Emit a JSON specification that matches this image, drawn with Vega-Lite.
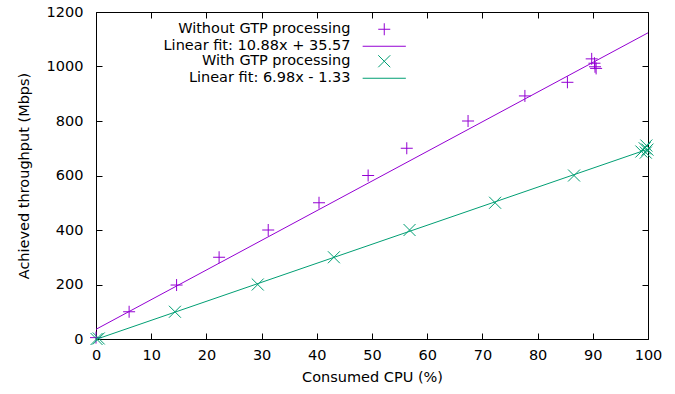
{
  "$schema": "https://vega.github.io/schema/vega-lite/v6.json",
  "autosize": "none",
  "width": 552,
  "height": 327,
  "padding": {"left": 96, "top": 12, "right": 27, "bottom": 55},
  "background": "white",
  "config": {
    "font": "DejaVu Sans",
    "view": {"stroke": "#000000", "strokeWidth": 1},
    "axis": {
      "grid": false,
      "domain": false,
      "tickColor": "#000000",
      "tickSize": -6,
      "labelFontSize": 14.5,
      "labelColor": "#000000",
      "titleFontSize": 14.5,
      "titleFontWeight": "normal",
      "titleColor": "#000000",
      "labelFlush": false,
      "labelOverlap": false,
      "format": "d"
    },
    "legend": {
      "labelFontSize": 14.5,
      "labelColor": "#000000"
    }
  },
  "layer": [
    {
      "data": {"values": [
        {"cpu": 0, "thr": 5, "series": "Without GTP processing"},
        {"cpu": 6.0, "thr": 100, "series": "Without GTP processing"},
        {"cpu": 14.6, "thr": 198, "series": "Without GTP processing"},
        {"cpu": 22.3, "thr": 300, "series": "Without GTP processing"},
        {"cpu": 31.2, "thr": 400, "series": "Without GTP processing"},
        {"cpu": 40.4, "thr": 500, "series": "Without GTP processing"},
        {"cpu": 49.3, "thr": 600, "series": "Without GTP processing"},
        {"cpu": 56.3, "thr": 700, "series": "Without GTP processing"},
        {"cpu": 67.4, "thr": 800, "series": "Without GTP processing"},
        {"cpu": 77.7, "thr": 892, "series": "Without GTP processing"},
        {"cpu": 85.4, "thr": 942, "series": "Without GTP processing"},
        {"cpu": 89.8, "thr": 1028, "series": "Without GTP processing"},
        {"cpu": 90.3, "thr": 1012, "series": "Without GTP processing"},
        {"cpu": 90.4, "thr": 999, "series": "Without GTP processing"},
        {"cpu": 90.6, "thr": 993, "series": "Without GTP processing"},
        {"cpu": 0.1, "thr": 0, "series": "With GTP processing"},
        {"cpu": 0.5, "thr": 2, "series": "With GTP processing"},
        {"cpu": 14.3, "thr": 100, "series": "With GTP processing"},
        {"cpu": 29.3, "thr": 200, "series": "With GTP processing"},
        {"cpu": 43.1, "thr": 300, "series": "With GTP processing"},
        {"cpu": 56.8, "thr": 400, "series": "With GTP processing"},
        {"cpu": 72.3, "thr": 500, "series": "With GTP processing"},
        {"cpu": 86.6, "thr": 600, "series": "With GTP processing"},
        {"cpu": 98.8, "thr": 688, "series": "With GTP processing"},
        {"cpu": 99.4, "thr": 700, "series": "With GTP processing"},
        {"cpu": 99.7, "thr": 710, "series": "With GTP processing"},
        {"cpu": 99.9, "thr": 695, "series": "With GTP processing"},
        {"cpu": 99.6, "thr": 684, "series": "With GTP processing"}
      ]},
      "mark": {"type": "point", "filled": false, "strokeWidth": 1, "size": 144, "opacity": 1},
      "encoding": {
        "x": {"field": "cpu", "type": "quantitative",
              "scale": {"domain": [0, 100], "nice": false, "zero": false},
              "axis": {"title": "Consumed CPU (%)", "values": [0,10,20,30,40,50,60,70,80,90,100], "labelPadding": 15, "titlePadding": 9}},
        "y": {"field": "thr", "type": "quantitative",
              "scale": {"domain": [0, 1200], "nice": false},
              "axis": {"title": "Achieved throughput (Mbps)", "values": [0,200,400,600,800,1000,1200], "labelPadding": 19, "titlePadding": 15}},
        "color": {"field": "series", "type": "nominal",
                  "scale": {"domain": ["Without GTP processing", "Linear fit: 10.88x + 35.57", "With GTP processing", "Linear fit: 6.98x - 1.33"],
                            "range": ["#9400d3", "#9400d3", "#009e73", "#009e73"]},
                  "legend": {"title": null, "orient": "none", "legendX": 281, "legendY": 10, "symbolOffset": 0, "labelOffset": -41, "labelAlign": "right", "labelLimit": 400, "rowPadding": 0, "padding": 0, "symbolStrokeWidth": 1, "symbolSize": 144, "symbolFillColor": "transparent"}},
        "shape": {"field": "series", "type": "nominal",
                  "scale": {"domain": ["Without GTP processing", "Linear fit: 10.88x + 35.57", "With GTP processing", "Linear fit: 6.98x - 1.33"],
                            "range": ["M-1,0H1M0,-1V1", "M-3.6,0H3.6", "M-1,-1L1,1M-1,1L1,-1", "M-3.6,0H3.6"]},
                  "legend": {"title": null, "orient": "none", "legendX": 281, "legendY": 10, "symbolOffset": 0, "labelOffset": -41, "labelAlign": "right", "labelLimit": 400, "rowPadding": 0, "padding": 0, "symbolStrokeWidth": 1, "symbolSize": 144, "symbolFillColor": "transparent"}}
      }
    },
    {
      "data": {"values": [
        {"cpu": 0, "thr": 35.57, "series": "Linear fit: 10.88x + 35.57"},
        {"cpu": 100, "thr": 1123.57, "series": "Linear fit: 10.88x + 35.57"},
        {"cpu": 0, "thr": -1.33, "series": "Linear fit: 6.98x - 1.33"},
        {"cpu": 100, "thr": 696.67, "series": "Linear fit: 6.98x - 1.33"}
      ]},
      "mark": {"type": "line", "strokeWidth": 1, "clip": true},
      "encoding": {
        "x": {"field": "cpu", "type": "quantitative",
              "axis": {"orient": "top", "labels": false, "title": null, "values": [0,10,20,30,40,50,60,70,80,90,100]}},
        "y": {"field": "thr", "type": "quantitative",
              "axis": {"orient": "right", "labels": false, "title": null, "values": [0,200,400,600,800,1000,1200]}},
        "color": {"field": "series", "type": "nominal"}
      }
    }
  ],
  "resolve": {"axis": {"x": "independent", "y": "independent"}}
}
